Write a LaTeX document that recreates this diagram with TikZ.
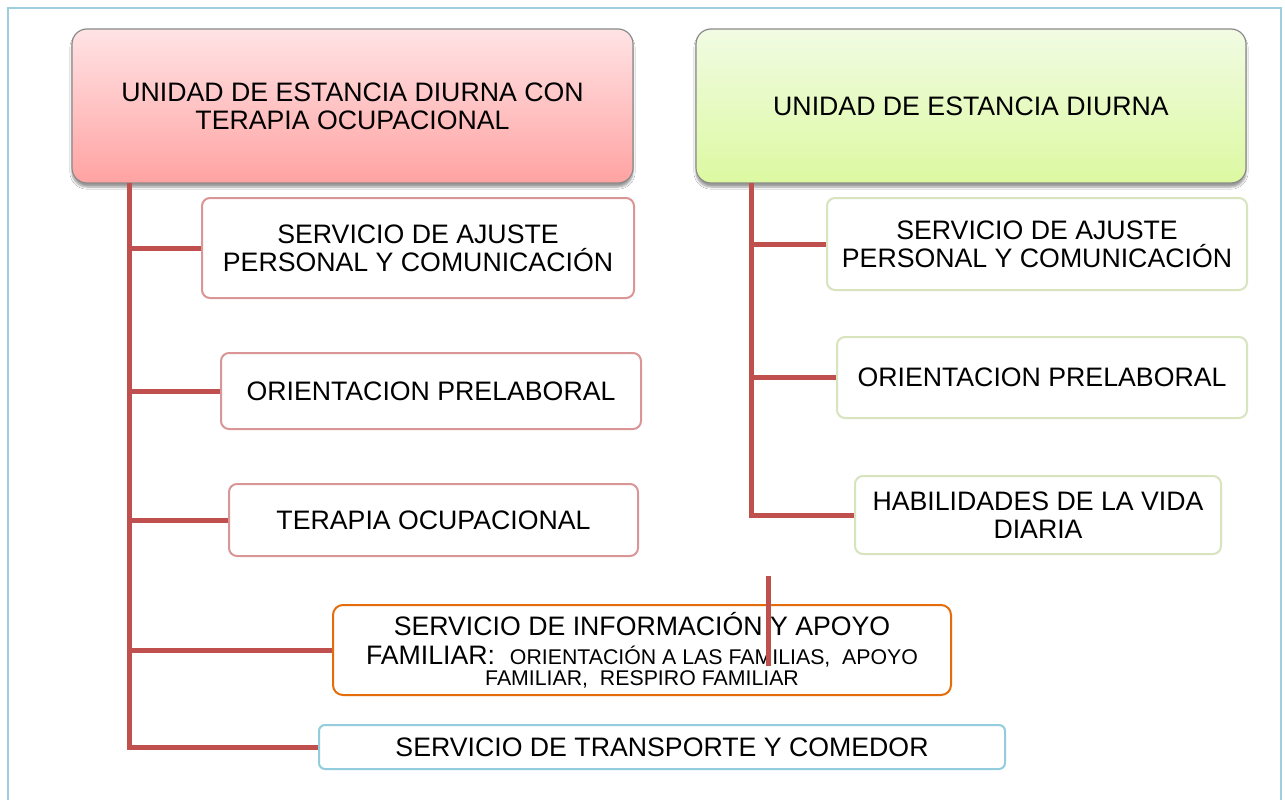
\documentclass[tikz,border=0pt]{standalone}
\usepackage{fontspec}
\setmainfont{Liberation Sans}
\usetikzlibrary{shadows.blur}
\definecolor{trunkred}{HTML}{C0504D}
\definecolor{pinkline}{HTML}{DA9696}
\definecolor{greenline}{HTML}{D7E4BD}
\definecolor{orangeline}{HTML}{E46C0A}
\definecolor{blueline}{HTML}{93CDDD}
\definecolor{framecol}{HTML}{9CD0DE}
\definecolor{topgray}{HTML}{8A8A8A}
\definecolor{redtop}{HTML}{FFE3E5}
\definecolor{redbot}{HTML}{FFA3A2}
\definecolor{greentop}{HTML}{F1FBE3}
\definecolor{greenbot}{HTML}{DCF9A1}
\newcommand{\bigtxt}{\fontsize{26.7}{28}\selectfont}
\newcommand{\smalltxt}{\fontsize{21.3}{21}\selectfont}
\begin{document}
\begin{tikzpicture}[x=1pt,y=-1pt,
  conn/.style={draw=trunkred,line width=5pt,line join=miter},
  headbox/.style={rectangle,rounded corners=15pt,draw=topgray,line width=1.2pt,
    align=center,font=\bigtxt,inner sep=0pt,
    blur shadow={shadow xshift=0pt,shadow yshift=-4pt,shadow blur steps=6,shadow opacity=40}},
  subbox/.style={rectangle,rounded corners=8pt,line width=2pt,fill=white,
    align=center,font=\bigtxt,inner sep=0pt},
  framestyle/.style={draw=framecol,line width=2pt}
]
\useasboundingbox (0,0) rectangle (1285,800);
\fill[white] (0,0) rectangle (1285,800);

% outer frame
\coordinate (f1) at (8,800);
\coordinate (f2) at (8,8);
\coordinate (f3) at (1281,8);
\coordinate (f4) at (1281,800);
\draw[framestyle] (f1) -- (f2) -- (f3) -- (f4);

% head boxes
\node[headbox,top color=redtop,bottom color=redbot,minimum width=561pt,minimum height=154pt]
  (L0) at (352.5,106) {UNIDAD DE ESTANCIA DIURNA CON\\TERAPIA OCUPACIONAL};
\node[headbox,top color=greentop,bottom color=greenbot,minimum width=550pt,minimum height=154pt]
  (R0) at (971,106) {UNIDAD DE ESTANCIA DIURNA};

% left children
\node[subbox,draw=pinkline,minimum width=432pt,minimum height=100pt] (L1) at (418,248)
  {SERVICIO DE AJUSTE\\PERSONAL Y COMUNICACIÓN};
\node[subbox,draw=pinkline,minimum width=420pt,minimum height=76pt] (L2) at (431,391)
  {ORIENTACION PRELABORAL};
\node[subbox,draw=pinkline,minimum width=409pt,minimum height=72pt] (L3) at (433.5,520)
  {TERAPIA OCUPACIONAL};
\node[subbox,draw=orangeline,rounded corners=10pt,minimum width=618pt,minimum height=90pt] (L4) at (642,650)
  {SERVICIO DE INFORMACIÓN Y APOYO\\[1pt]FAMILIAR:~~{\smalltxt ORIENTACIÓN A LAS FAMILIAS,~~APOYO}\\[-7pt]{\smalltxt FAMILIAR,~~RESPIRO FAMILIAR}};
\node[subbox,draw=blueline,rounded corners=6pt,minimum width=686pt,minimum height=44pt] (L5) at (662,747)
  {SERVICIO DE TRANSPORTE Y COMEDOR};

% right children
\node[subbox,draw=greenline,minimum width=420pt,minimum height=92pt] (R1) at (1037,244)
  {SERVICIO DE AJUSTE\\PERSONAL Y COMUNICACIÓN};
\node[subbox,draw=greenline,minimum width=410pt,minimum height=81pt] (R2) at (1042,377.5)
  {ORIENTACION PRELABORAL};
\node[subbox,draw=greenline,minimum width=366pt,minimum height=78pt] (R3) at (1038,515)
  {HABILIDADES DE LA VIDA\\DIARIA};

% left trunk
\coordinate (lt) at (129,183);
\draw[conn] (lt) |- (L5.west);
\draw[conn] (L1.west -| lt) -- (L1.west);
\draw[conn] (L2.west -| lt) -- (L2.west);
\draw[conn] (L3.west -| lt) -- (L3.west);
\draw[conn] (L4.west -| lt) -- (L4.west);

% right trunk
\coordinate (rt) at (751,183);
\draw[conn] (rt) |- (R3.west);
\draw[conn] (R1.west -| rt) -- (R1.west);
\draw[conn] (R2.west -| rt) -- (R2.west);

% stray segment
\coordinate (s1) at (768,576);
\coordinate (s2) at (768,666);
\draw[conn] (s1) -- (s2);
\end{tikzpicture}
\end{document}
